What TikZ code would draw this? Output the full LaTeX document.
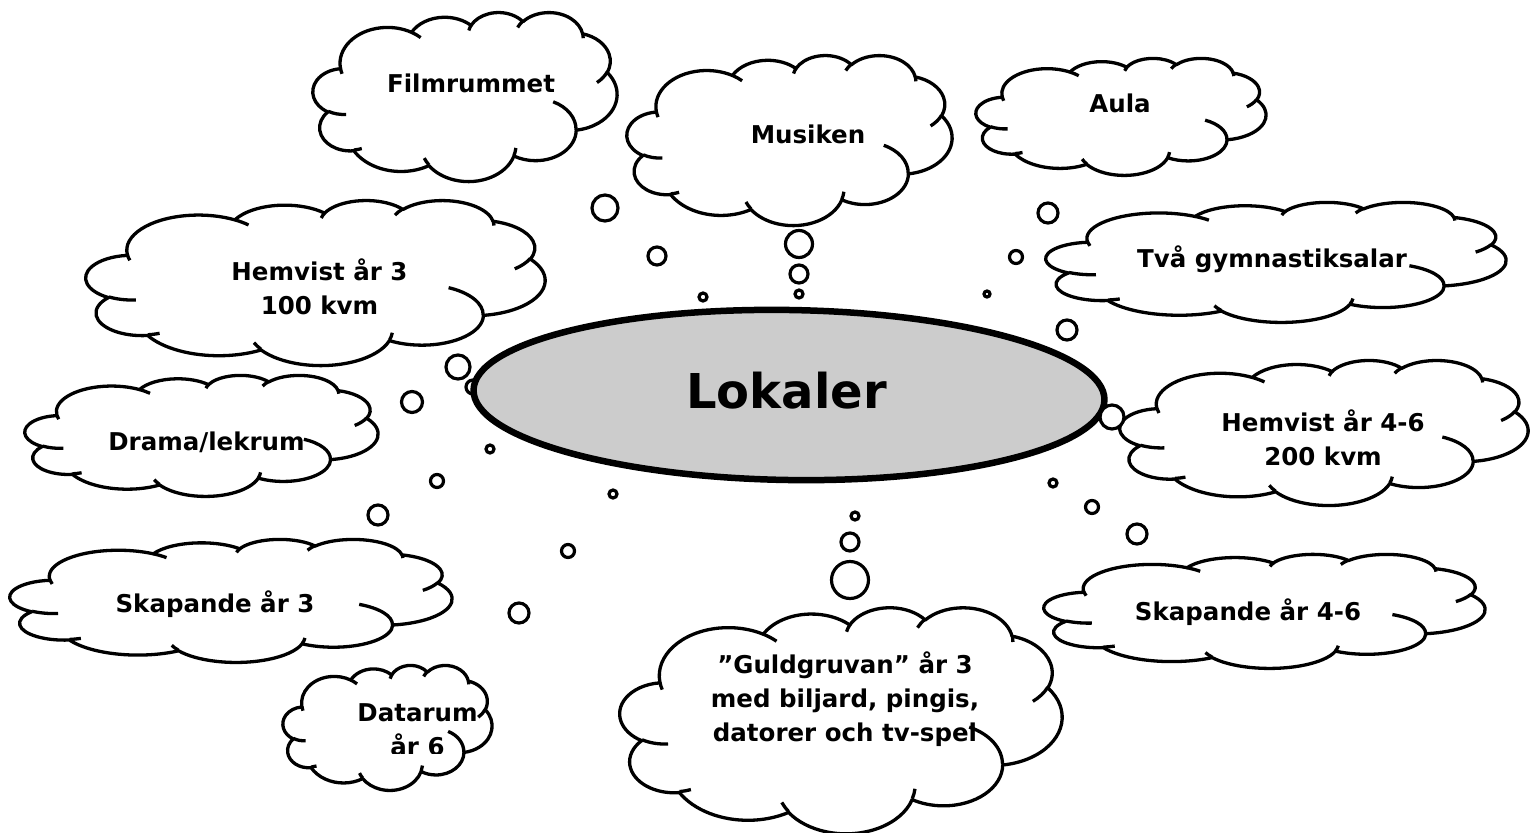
\documentclass[tikz,border=0pt]{standalone}
\usepackage{fontspec}
\setmainfont{DejaVu Sans}
\usetikzlibrary{shapes.geometric}
\tikzset{
  cloudline/.style={line width=3.3pt, line join=round},
  bubble/.style={draw, circle, line width=3.2pt, fill=white, inner sep=0pt},
  lab/.style={font=\bfseries\fontsize{24.5}{34}\selectfont, align=center, inner sep=0pt},
}
% Word cloud shape in a box: left, top, width, height (px, y down)
\newcommand\cloudshape[4]{%
  \begin{scope}[shift={(#1,#2)}, xscale=#3/43.2, yscale=#4/43.2]
    \draw[cloudline, fill=white] (3.9,14.37)
      \foreach \w/\h/\s/\sw
        [evaluate=\s as \ta using {\s+mod(atan2(\w*sin(\s),\h*cos(\s))-(\s)+900,360)-180},
         evaluate=\s as \tb using {\s+\sw+mod(atan2(\w*sin(\s+\sw),\h*cos(\s+\sw))-(\s)-(\sw)+900,360)-180}]
      in {6.753/9.19/-190.48748/123.78053,
          5.333/7.267/-144.10238/89.94523,
          4.365/5.945/-145.80792/99.72302,
          4.857/6.595/-130.98607/117.24173,
          5.333/7.273/-78.70888/109.02692,
          6.775/9.22/-46.26725/130.269,
          5.785/7.867/0.62502/114.03333,
          6.752/9.215/22.4516/115.17255,
          7.72/10.543/66.24263/75.71102,
          4.36/5.918/-274.94208/146.73557,
          4.345/5.945/-246.8285/152.51885}
      { arc[start angle=\ta, end angle=\tb, x radius=\w, y radius=\h] } -- cycle;
    \draw[cloudline]
      \foreach \x/\y/\w/\h/\s/\sw
        [evaluate=\s as \ta using {\s+mod(atan2(\w*sin(\s),\h*cos(\s))-(\s)+900,360)-180},
         evaluate=\s as \tb using {\s+\sw+mod(atan2(\w*sin(\s+\sw),\h*cos(\s+\sw))-(\s)-(\sw)+900,360)-180}]
      in {4.693/26.177/4.345/5.945/86.742/26.43,
          6.928/34.899/4.36/5.918/73.61/11.447,
          16.478/39.09/6.752/9.215/137.624/14.081,
          28.827/34.751/6.752/9.215/6.453/15.998,
          34.129/22.954/5.785/7.867/-70.292/70.917,
          41.798/15.354/5.333/7.273/30.318/27.752,
          38.324/5.426/4.857/6.595/-13.744/14.859,
          29.078/3.952/4.857/6.595/-149.181/18.195,
          22.141/4.72/4.365/5.945/-163.494/17.686,
          14.0/5.192/6.753/9.19/-66.707/12.319,
          4.127/15.789/6.753/9.19/157.654/11.858}
      { (\x,\y) arc[start angle=\ta, end angle=\tb, x radius=\w, y radius=\h] };
  \end{scope}}
\begin{document}
\begin{tikzpicture}[x=1pt, y=1pt, yscale=-1]
\useasboundingbox (0,0) rectangle (1530,832);

% clouds
\cloudshape{313}{12}{304}{169}
\cloudshape{627}{55}{325}{170}
\cloudshape{976}{58}{290}{117}
\cloudshape{1046}{202}{460}{120}
\cloudshape{86}{200}{459}{165}
\cloudshape{25}{375}{353}{121}
\cloudshape{1120}{360}{408}{145}
\cloudshape{10}{539}{442}{123}
\cloudshape{1044}{554}{441}{114}
\cloudshape{283}{665}{209}{125}
\cloudshape{620}{607}{442}{226}

% labels
\node[lab, anchor=base] (film) at (471,93) {Filmrummet};
\node[lab, anchor=base] (musik) at (808,143) {Musiken};
\node[lab, anchor=base] (aula) at (1120,113) {Aula};
\node[lab, anchor=base] (gym) at (1272,267) {Två gymnastiksalar};
\node[lab] (hem3) at (319.5,286.7) {Hemvist år 3\\100 kvm};
\node[lab, anchor=base] (drama) at (206.5,450) {Drama/lekrum};
\node[lab] (hem46) at (1323,437.7) {Hemvist år 4-6\\200 kvm};
\node[lab, anchor=base] (skap3) at (215,612) {Skapande år 3};
\node[lab, anchor=base] (skap46) at (1248,620) {Skapande år 4-6};
\begin{scope}
  \clip (283,600) rectangle (600,753);
  \node[lab] (data) at (417.5,730) {Datarum\\år 6};
\end{scope}
\node[lab] (guld) at (845,699) {”Guldgruvan” år 3\\med biljard, pingis,\\datorer och tv-spel};

% bubbles
\node[bubble, minimum size=26pt] (f1) at (605,208) {};
\node[bubble, minimum size=18pt] (f2) at (657,256) {};
\node[bubble, minimum size=8pt]  (f3) at (703,297) {};
\node[bubble, minimum size=27pt] (m1) at (799,244) {};
\node[bubble, minimum size=18pt] (m2) at (799,274) {};
\node[bubble, minimum size=8pt]  (m3) at (799,294) {};
\node[bubble, minimum size=20pt] (a1) at (1048,213) {};
\node[bubble, minimum size=13pt] (a2) at (1016,257) {};
\node[bubble, minimum size=6pt]  (a3) at (987,294) {};
\node[bubble, minimum size=20pt] (g1) at (1067,330) {};
\node[bubble, minimum size=24pt] (h1) at (458,367) {};
\node[bubble, minimum size=14pt] (h2) at (473,387) {};
\node[bubble, minimum size=21pt] (d1) at (412,402) {};
\node[bubble, minimum size=8pt]  (s3) at (490,449) {};
\node[bubble, minimum size=13pt] (s2) at (437,481) {};
\node[bubble, minimum size=20pt] (s1) at (378,515) {};
\node[bubble, minimum size=8pt]  (da3) at (613,494) {};
\node[bubble, minimum size=13pt] (da2) at (568,551) {};
\node[bubble, minimum size=20pt] (da1) at (519,613) {};
\node[bubble, minimum size=8pt]  (k3) at (1053,483) {};
\node[bubble, minimum size=13pt] (k2) at (1092,507) {};
\node[bubble, minimum size=20pt] (k1) at (1137,534) {};
\node[bubble, minimum size=8pt]  (gu3) at (855,516) {};
\node[bubble, minimum size=18pt] (gu2) at (850,542) {};
\node[bubble, minimum size=37pt] (gu1) at (850,580) {};

% central ellipse
\node[draw, ellipse, line width=6.5pt, fill=black!20, inner sep=0pt, rotate=-0.9,
      minimum width=631pt, minimum height=170pt] (lok) at (789,395) {};
\node[font=\bfseries\fontsize{48}{58}\selectfont, anchor=base, inner sep=0pt] (lokT) at (786.5,408) {Lokaler};
\node[bubble, minimum size=24pt] (h461) at (1112,417) {};
\end{tikzpicture}
\end{document}
